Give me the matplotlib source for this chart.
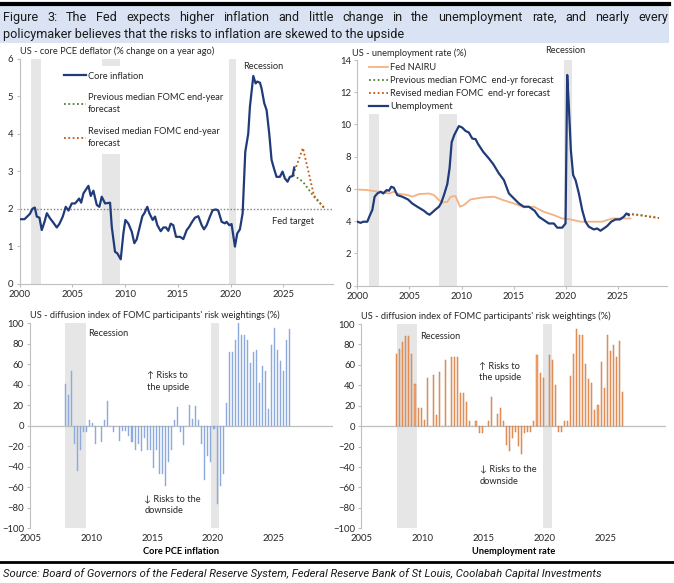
"""Fed SEP figure: core PCE, unemployment and FOMC risk-weighting diffusion indexes."""
import numpy as np
import matplotlib
matplotlib.use("Agg")
import matplotlib.pyplot as plt
from matplotlib.lines import Line2D
from matplotlib.patches import Rectangle

# ---------------- data ----------------
pce_years = [2000.0, 2000.47, 2000.98, 2001.23, 2001.45, 2001.64, 2001.89, 2002.11, 2002.37, 2002.59,
             2002.9, 2003.15, 2003.53, 2003.79, 2004.1, 2004.38, 2004.64, 2004.95, 2005.27, 2005.65,
             2005.84, 2006.06, 2006.53, 2006.75, 2007.0, 2007.32, 2007.57, 2007.79, 2008.11, 2008.58,
             2008.74, 2009.05, 2009.27, 2009.59, 2009.84, 2010.03, 2010.32, 2010.63, 2010.88, 2011.1,
             2011.36, 2011.64, 2011.83, 2012.11, 2012.3, 2012.62, 2012.84, 2013.06, 2013.38, 2013.63,
             2013.88, 2014.1, 2014.32, 2014.57, 2014.83, 2015.21, 2015.52, 2015.84, 2016.09, 2016.31,
             2016.62, 2016.94, 2017.26, 2017.48, 2017.73, 2018.04, 2018.3, 2018.61, 2018.83, 2019.15,
             2019.46, 2019.62, 2019.87, 2020.09, 2020.41, 2020.63, 2020.88, 2021.14, 2021.39, 2021.67,
             2021.83, 2022.15, 2022.37, 2022.52, 2022.78, 2022.93, 2023.19, 2023.41, 2023.66, 2023.88,
             2024.1, 2024.35, 2024.67, 2024.92, 2025.14, 2025.39, 2025.62, 2025.87, 2026.03]
core_pce = [1.72, 1.72, 1.86, 2.0, 2.03, 1.79, 1.76, 1.43, 1.65, 1.88,
            1.74, 1.65, 1.5, 1.6, 1.79, 2.05, 1.95, 2.14, 2.14, 2.27,
            2.16, 2.41, 2.61, 2.34, 2.48, 2.1, 2.05, 2.32, 2.14, 2.16,
            1.52, 0.85, 0.81, 0.65, 1.34, 1.7, 1.6, 1.39, 1.08, 1.18,
            1.48, 1.8, 1.88, 2.05, 1.88, 1.7, 1.79, 1.56, 1.4, 1.5,
            1.5, 1.41, 1.6, 1.56, 1.25, 1.25, 1.19, 1.43, 1.52, 1.63,
            1.76, 1.8, 1.56, 1.45, 1.56, 1.79, 1.96, 1.98, 1.95, 1.65,
            1.61, 1.65, 1.56, 1.59, 0.99, 1.34, 1.45, 1.88, 3.52, 4.0,
            4.72, 5.54, 5.34, 5.39, 5.36, 5.21, 4.81, 4.63, 4.0, 3.3,
            3.08, 2.85, 2.85, 2.99, 2.81, 2.72, 2.85, 2.87, 3.1]

fcst_years = [2025.93, 2026.85, 2027.9, 2028.93]
pce_prev_fcst = [2.9, 2.72, 2.32, 2.0]
pce_rev_fcst = [2.9, 3.62, 2.35, 2.0]
fed_target = 2.0

ur_years = [2000.0, 2000.32, 2000.58, 2000.96, 2001.15, 2001.44, 2001.66, 2001.92, 2002.24, 2002.49,
            2002.81, 2003.04, 2003.26, 2003.51, 2003.83, 2004.31, 2004.86, 2005.27, 2005.75, 2006.39,
            2006.71, 2006.93, 2007.25, 2007.51, 2007.83, 2008.05, 2008.31, 2008.63, 2008.85, 2009.05,
            2009.3, 2009.74, 2010.06, 2010.38, 2010.7, 2011.02, 2011.34, 2011.57, 2012.08, 2012.62,
            2013.04, 2013.58, 2014.06, 2014.54, 2015.02, 2015.5, 2015.97, 2016.45, 2017.0, 2017.41,
            2017.89, 2018.37, 2018.85, 2019.17, 2019.65, 2019.97, 2020.13, 2020.29, 2020.48, 2020.7,
            2020.93, 2021.25, 2021.57, 2021.88, 2022.2, 2022.68, 2023.0, 2023.32, 2023.64, 2023.96,
            2024.35, 2024.76, 2025.18, 2025.56, 2025.81, 2026.04]
unemployment = [3.97, 3.9, 3.97, 3.97, 4.28, 4.7, 5.52, 5.72, 5.83, 5.72,
                5.93, 5.89, 6.14, 6.07, 5.62, 5.52, 5.35, 5.1, 4.9, 4.65,
                4.48, 4.4, 4.58, 4.73, 4.9, 5.14, 5.62, 6.3, 7.3, 8.9,
                9.35, 9.9, 9.81, 9.6, 9.5, 9.13, 9.09, 8.8, 8.3, 7.89,
                7.54, 6.96, 6.55, 5.72, 5.41, 5.1, 4.9, 4.9, 4.65, 4.28,
                4.07, 3.86, 3.86, 3.6, 3.6, 3.86, 13.07, 11.1, 8.41, 6.86,
                6.55, 5.72, 4.69, 3.97, 3.66, 3.49, 3.55, 3.41, 3.55, 3.7,
                3.97, 4.11, 4.11, 4.28, 4.48, 4.38]

nairu_years = [2000.0, 2000.96, 2002.08, 2003.04, 2003.51, 2003.83, 2004.86, 2005.27, 2005.91, 2006.87,
               2007.35, 2007.83, 2008.15, 2008.63, 2008.95, 2009.42, 2009.84, 2010.22, 2010.86, 2011.98,
               2013.1, 2013.99, 2015.02, 2015.97, 2016.93, 2017.89, 2018.85, 2019.65, 2020.29, 2021.41,
               2022.36, 2023.48, 2023.96, 2024.44, 2025.4, 2026.2]
nairu = [5.97, 5.93, 5.83, 5.72, 5.83, 5.72, 5.62, 5.52, 5.68, 5.72,
         5.62, 5.31, 5.17, 5.2, 5.52, 5.56, 4.9, 5.0, 5.35, 5.47,
         5.52, 5.31, 5.1, 4.86, 4.9, 4.58, 4.38, 4.17, 4.13, 3.97,
         3.97, 3.97, 4.07, 4.17, 4.17, 4.17]

ur_prev_fcst = [4.45, 4.4, 4.3, 4.2]
ur_rev_fcst = [4.45, 4.4, 4.3, 4.2]

recessions = [(2001.1, 2002.05), (2007.85, 2009.55), (2019.85, 2020.55)]

# quarterly SEP rounds, 2007 Q4 onwards
sep_dates = 2007.85 + 0.25 * np.arange(75)
infl_risk = [41, 30, 53, -18, -44, -24, -6, -6, 6, 3,
             -18, 0, -16, 6, 24, 0, -6, 0, -15, -5,
             -5, -10, -16, -24, -18, -25, -12, -24, -24, -41,
             -24, -47, -47, -59, -35, -24, 6, 18, -6, -19,
             0, 20, 7, 19, 6, -18, -53, -29, -35, -3,
             -76, -59, -47, 22, 72, 72, 84, 100, 89, 89,
             84, 61, 72, 74, 42, 58, 53, 16, 79, 95,
             74, 63, 53, 84, 94]
unemp_risk = [71, 76, 82, 88, 88, 71, 41, 18, 18, 6,
              47, 0, 50, 11, 53, 0, 65, 0, 68, 68,
              68, 32, 32, 24, 5, 0, 5, -7, -7, 0,
              5, 29, 0, 12, 18, 5, -18, -24, -12, -6,
              -19, -27, -7, -6, -6, 5, 70, 52, 47, 0,
              70, 65, 40, -6, -6, 5, 5, 49, 71, 95,
              89, 89, 61, 46, 42, 16, 21, 63, 37, 89,
              74, 79, 68, 83, 33]

title_1 = ("Figure 3: The Fed expects higher inflation and little change in the unemployment rate, "
           "and nearly every")
title_2 = "policymaker believes that the risks to inflation are skewed to the upside"
source = ("Source: Board of Governors of the Federal Reserve System, Federal Reserve Bank of St Louis, "
          "Coolabah Capital Investments")

# ---------------- style ----------------
NAVY = "#1F3B7A"
GREEN = "#548235"
ORANGE = "#C55A11"
NAIRU_C = "#F4B183"
SHADE = "#E6E6E6"
AXC = "#BFBFBF"
TXT = "#262626"
FONT = ["Lato", "DejaVu Sans"]
FS = 6.7
TICK_FS = 6.8
DOT = (0, (1, 1.4))

plt.rcParams["font.family"] = FONT
plt.rcParams["text.color"] = TXT

W, H = 674, 583
fig = plt.figure(figsize=(W / 100, H / 100), dpi=100)


def px_axes(x0, y0, x1, y1):
    return fig.add_axes([x0 / W, 1 - y1 / H, (x1 - x0) / W, (y1 - y0) / H])


def style_axes(ax):
    for s in ["top", "right"]:
        ax.spines[s].set_visible(False)
    for s in ["left", "bottom"]:
        ax.spines[s].set_color(AXC)
        ax.spines[s].set_linewidth(0.8)
    ax.tick_params(labelsize=TICK_FS, colors=AXC, labelcolor=TXT, length=2.5, width=0.8, pad=2)


def shade(ax):
    for a, b in recessions:
        ax.axvspan(a, b, color=SHADE, lw=0, zorder=0)


def white_legend(ax, handles, labels, anchor, **kw):
    leg = ax.legend(handles, labels, loc="upper left", bbox_to_anchor=anchor, borderaxespad=0,
                    fontsize=FS, frameon=True, fancybox=False, framealpha=1, facecolor="white",
                    edgecolor="none", **kw)
    for t in leg.get_texts():
        t.set_linespacing(1.45)
    return leg


# ---------------- top-left: core PCE ----------------
ax1 = px_axes(19.5, 58.7, 333, 283.7)
style_axes(ax1)
shade(ax1)
ax1.axhline(fed_target, color="#7F7F7F", lw=1.0, ls=DOT, zorder=2)
ax1.plot(fcst_years, pce_prev_fcst, color=GREEN, lw=1.3, ls=DOT, zorder=3)
ax1.plot(fcst_years, pce_rev_fcst, color=ORANGE, lw=1.3, ls=DOT, zorder=3)
ax1.plot(pce_years, core_pce, color=NAVY, lw=1.6, zorder=4)
ax1.set_xlim(2000, 2029.7)
ax1.set_ylim(0, 6)
ax1.set_xticks([2000, 2005, 2010, 2015, 2020, 2025])
ax1.set_yticks(range(0, 7))
ax1.text(2021.2, 5.8, "Recession", fontsize=FS, va="center")
ax1.text(2023.9, 1.65, "Fed target", fontsize=FS, va="center")
ax1.text(0.0, 1.032, "US - core PCE deflator (% change on a year ago)", transform=ax1.transAxes,
         fontsize=FS, va="center")
h1 = [Line2D([], [], color=NAVY, lw=1.6),
      Line2D([], [], color=GREEN, lw=1.3, ls=DOT),
      Line2D([], [], color=ORANGE, lw=1.3, ls=DOT)]
lab1 = ["Core inflation", "Previous median FOMC end-year\nforecast",
        "Revised median FOMC end-year\nforecast"]
white_legend(ax1, h1, lab1, (0.125, 0.967), handlelength=2.3, handletextpad=0.2,
             labelspacing=1.35, borderpad=0.6)

# ---------------- top-right: unemployment ----------------
ax2 = px_axes(357.3, 60, 667, 285.7)
style_axes(ax2)
shade(ax2)
ax2.plot(nairu_years, nairu, color=NAIRU_C, lw=1.3, zorder=2)
ax2.plot(fcst_years, ur_prev_fcst, color=GREEN, lw=1.3, ls=DOT, zorder=3)
ax2.plot(fcst_years, ur_rev_fcst, color=ORANGE, lw=1.3, ls=DOT, zorder=3)
ax2.plot(ur_years, unemployment, color=NAVY, lw=1.6, zorder=4)
ax2.set_xlim(2000, 2029.7)
ax2.set_ylim(0, 14)
ax2.set_xticks([2000, 2005, 2010, 2015, 2020, 2025])
ax2.set_yticks(range(0, 15, 2))
ax2.text(2019.9, 14.6, "Recession", fontsize=FS, ha="center", va="center", clip_on=False)
ax2.text(-0.017, 1.03, "US - unemployment rate (%)", transform=ax2.transAxes, fontsize=FS, va="center")
h2 = [Line2D([], [], color=NAIRU_C, lw=1.3),
      Line2D([], [], color=GREEN, lw=1.3, ls=DOT),
      Line2D([], [], color=ORANGE, lw=1.3, ls=DOT),
      Line2D([], [], color=NAVY, lw=1.6)]
lab2 = ["Fed NAIRU", "Previous median FOMC  end-yr forecast",
        "Revised median FOMC  end-yr forecast", "Unemployment"]
white_legend(ax2, h2, lab2, (0.03, 1.0), handlelength=2.0, handletextpad=0.2,
             labelspacing=0.45, borderpad=0.3)


# ---------------- bottom: diffusion indexes ----------------
def diffusion(ax, values, color, edge, xlabel):
    style_axes(ax)
    ax.spines["bottom"].set_visible(False)
    shade(ax)
    ax.axhline(0, color=AXC, lw=0.9, zorder=2)
    ax.bar(sep_dates, values, width=0.085, color=color, edgecolor=edge, linewidth=0.3, zorder=3)
    ax.set_xlim(2004.95, 2029.9)
    ax.set_ylim(-100, 100)
    ax.set_yticks(range(-100, 101, 20))
    ax.set_xticks([2005, 2010, 2015, 2020, 2025])
    ax.tick_params(axis="x", length=0, pad=4)
    ax.set_xlabel(xlabel, fontsize=FS, fontweight="bold", labelpad=3)
    ax.text(0.0, 1.04, "US - diffusion index of FOMC participants' risk weightings (%)",
            transform=ax.transAxes, fontsize=FS, va="center")


ax3 = px_axes(30, 323.3, 333, 528.3)
diffusion(ax3, infl_risk, "#8EA9DB", "#8EA9DB", "Core PCE inflation")
ax3.text(2009.75, 90, "Recession", fontsize=FS, va="center")
ax3.text(2014.55, 43, "\u2191 Risks to\nthe upside", fontsize=FS, va="center", linespacing=1.4)
ax3.text(2014.35, -77, "\u2193 Risks to the\ndownside", fontsize=FS, va="center", linespacing=1.4)

ax4 = px_axes(361.3, 324, 665.7, 528.3)
diffusion(ax4, unemp_risk, "#F4A872", "#C8692B", "Unemployment rate")
ax4.text(2009.75, 88, "Recession", fontsize=FS, va="center")
ax4.text(2014.6, 53, "\u2191 Risks to\nthe upside", fontsize=FS, va="center", linespacing=1.4)
ax4.text(2014.65, -48, "\u2193 Risks to the\ndownside", fontsize=FS, va="center", linespacing=1.4)

# ---------------- header / footer ----------------
fig.patches.append(Rectangle((0, 1 - 43 / H), 669 / W, 37 / H, transform=fig.transFigure,
                             color="#DAE3F3", lw=0, zorder=0))
fig.add_artist(Line2D([0, 669 / W], [1 - 4 / H, 1 - 4 / H], color="black", lw=3.0))
fig.add_artist(Line2D([0, 1], [1 - 562 / H, 1 - 562 / H], color="black", lw=2.0))

TFONT = dict(fontsize=9.1, family=["Roboto", "DejaVu Sans"], color="#1a1a1a", va="baseline")


def justified(text, x0, x1, y, **kw):
    words = text.split(" ")
    r = fig.canvas.get_renderer()
    objs = [fig.text(0, y, w, **kw) for w in words]
    widths = [o.get_window_extent(r).width for o in objs]
    gap = ((x1 - x0) - sum(widths)) / (len(words) - 1)
    pos = x0
    for o, w in zip(objs, widths):
        o.set_x(pos / W)
        pos += w + gap


justified(title_1, 3, 668, 1 - 21 / H, **TFONT)
fig.text(3 / W, 1 - 38 / H, title_2, **TFONT)
fig.text(3 / W, 1 - 577 / H, source, fontsize=8.1, style="italic",
         family=["Roboto", "DejaVu Sans"], color="#1a1a1a")

fig.savefig("out.png", dpi=100)
